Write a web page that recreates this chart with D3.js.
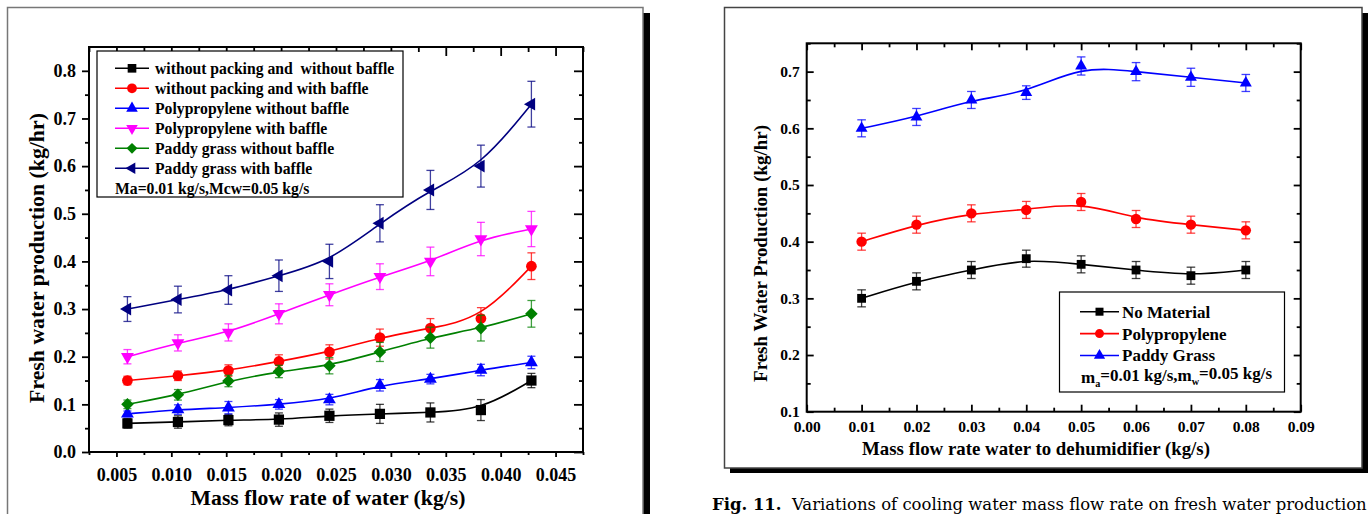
<!DOCTYPE html>
<html>
<head>
<meta charset="utf-8">
<script src="https://cdn.jsdelivr.net/npm/d3@7"></script>
<style>
  body { margin: 0; background: #fff; }
  svg { display: block; font-family: "Liberation Serif", "Times New Roman", serif; }
</style>
</head>
<body>
<svg id="fig" width="1370" height="514"></svg>
<script>
// ---- left figure: flow rate of water ----
var leftFlow = [0.006, 0.0106, 0.0152, 0.0198, 0.0244, 0.029, 0.0336, 0.0382, 0.0428];
var noPackNoBaffle = [0.06, 0.063, 0.067, 0.068, 0.076, 0.08, 0.083, 0.088, 0.15];
var noPackNoBaffleErr = [0.01, 0.013, 0.012, 0.014, 0.014, 0.02, 0.02, 0.022, 0.015];
var noPackBaffle = [0.15, 0.16, 0.171, 0.19, 0.21, 0.24, 0.26, 0.28, 0.39];
var noPackBaffleErr = [0.009, 0.01, 0.012, 0.014, 0.015, 0.018, 0.02, 0.023, 0.028];
var polyNoBaffle = [0.08, 0.089, 0.093, 0.1, 0.11, 0.14, 0.153, 0.172, 0.188];
var polyNoBaffleErr = [0.006, 0.01, 0.013, 0.01, 0.011, 0.012, 0.01, 0.012, 0.013];
var polyBaffle = [0.2, 0.229, 0.251, 0.29, 0.33, 0.368, 0.4, 0.447, 0.468];
var polyBaffleErr = [0.015, 0.017, 0.018, 0.021, 0.023, 0.027, 0.03, 0.035, 0.037];
var paddyNoBaffle = [0.1, 0.12, 0.149, 0.169, 0.181, 0.21, 0.24, 0.26, 0.29];
var paddyNoBaffleErr = [0.009, 0.011, 0.012, 0.013, 0.017, 0.02, 0.022, 0.027, 0.028];
var paddyBaffle = [0.3, 0.32, 0.34, 0.37, 0.4, 0.48, 0.55, 0.6, 0.73];
var paddyBaffleErr = [0.026, 0.028, 0.03, 0.033, 0.036, 0.039, 0.041, 0.044, 0.048];

var leftXTicks = [0.005, 0.010, 0.015, 0.020, 0.025, 0.030, 0.035, 0.040, 0.045];
var leftXMinor = [0.0025, 0.0075, 0.0125, 0.0175, 0.0225, 0.0275, 0.0325, 0.0375, 0.0425, 0.0475];
var leftYTicks = [0, 0.1, 0.2, 0.3, 0.4, 0.5, 0.6, 0.7, 0.8];
var leftYMinor = [0.05, 0.15, 0.25, 0.35, 0.45, 0.55, 0.65, 0.75];

// ---- right figure: water to dehumidifier ----
var rightFlow = [0.01, 0.02, 0.03, 0.04, 0.05, 0.06, 0.07, 0.08];
var noMaterial = [0.30, 0.33, 0.35, 0.37, 0.36, 0.35, 0.34, 0.35];
var noMaterialErr = [0.015, 0.015, 0.015, 0.015, 0.015, 0.015, 0.015, 0.015];
var polypropylene = [0.40, 0.43, 0.45, 0.456, 0.47, 0.44, 0.43, 0.42];
var polypropyleneErr = [0.015, 0.015, 0.015, 0.015, 0.015, 0.015, 0.015, 0.015];
var paddyGrass = [0.60, 0.62, 0.65, 0.663, 0.71, 0.70, 0.69, 0.68];
var paddyGrassErr = [0.015, 0.015, 0.015, 0.012, 0.016, 0.016, 0.016, 0.015];

var rightXTicks = [0, 0.01, 0.02, 0.03, 0.04, 0.05, 0.06, 0.07, 0.08, 0.09];
var rightXMinor = [0.005, 0.015, 0.025, 0.035, 0.045, 0.055, 0.065, 0.075, 0.085];
var rightYTicks = [0.1, 0.2, 0.3, 0.4, 0.5, 0.6, 0.7];
var rightYMinor = [0.15, 0.25, 0.35, 0.45, 0.55, 0.65, 0.75];

var svg = d3.select('#fig');

var shapes = {
	square: { type: d3.symbolSquare, rot: 0 },
	circle: { type: d3.symbolCircle, rot: 0 },
	up: { type: d3.symbolTriangle, rot: 0 },
	down: { type: d3.symbolTriangle, rot: 180 },
	diamond: { type: d3.symbolDiamond2, rot: 0 },
	left: { type: d3.symbolTriangle, rot: -90 }
};

function marker(sel, shape, size, cx, cy, color) {
	sel.append('path')
		.attr('d', d3.symbol().type(shapes[shape].type).size(size)())
		.attr('transform', 'translate(' + cx + ',' + cy + ')rotate(' + shapes[shape].rot + ')')
		.attr('fill', color);
}

// scale a text's font so its length matches the width measured on the figure
function fit(t, width) {
	var fs = parseFloat(t.style('font-size'));
	var w = t.node().getComputedTextLength();
	t.style('font-size', (fs * width / w) + 'px');
}

// paper frames + shadows
svg.append('rect').attr('x', 643).attr('y', 13).attr('width', 7).attr('height', 510).attr('fill', '#000');
svg.append('rect').attr('x', 7.5).attr('y', 7.5).attr('width', 635.5).attr('height', 520)
	.attr('fill', '#fff').attr('stroke', '#777').attr('stroke-width', 1.5);
svg.append('rect').attr('x', 1362).attr('y', 13).attr('width', 6).attr('height', 460).attr('fill', '#000');
svg.append('rect').attr('x', 730).attr('y', 468).attr('width', 638).attr('height', 5).attr('fill', '#000');
svg.append('rect').attr('x', 724.5).attr('y', 7.5).attr('width', 637.5).attr('height', 460.5)
	.attr('fill', '#fff').attr('stroke', '#444').attr('stroke-width', 1.5);

function panel(o) {
	var g = svg.append('g');
	var x = d3.scaleLinear().domain(o.xDomain).range([o.left, o.right]);
	var y = d3.scaleLinear().domain(o.yDomain).range([o.bottom, o.top]);

	function styleAxis(a, fs) {
		a.select('.domain').remove();
		a.selectAll('line').attr('stroke', '#000').attr('stroke-width', 1.8);
		a.selectAll('text').attr('fill', '#000').style('font-size', fs + 'px')
			.style('font-weight', 'bold').style('font-family', '"Liberation Serif", serif');
	}
	var bSign = o.outBottom ? 1 : -1, lSign = o.outLeft ? 1 : -1;

	// bottom
	g.append('g').attr('transform', 'translate(0,' + o.bottom + ')')
		.call(d3.axisBottom(x).tickValues(o.xTicks).tickSize(bSign * o.bMajor)
			.tickPadding(o.xPad).tickFormat(d3.format(o.xFmt)))
		.call(styleAxis, o.tickFont);
	g.append('g').attr('transform', 'translate(0,' + o.bottom + ')')
		.call(d3.axisBottom(x).tickValues(o.xMinor).tickSize(bSign * o.bMinor).tickFormat(''))
		.call(styleAxis, o.tickFont);
	// top (inward)
	g.append('g').attr('transform', 'translate(0,' + o.top + ')')
		.call(d3.axisBottom(x).tickValues(o.xTicks).tickSize(o.tMajor).tickFormat(''))
		.call(styleAxis, o.tickFont);
	g.append('g').attr('transform', 'translate(0,' + o.top + ')')
		.call(d3.axisBottom(x).tickValues(o.xMinor).tickSize(o.tMinor).tickFormat(''))
		.call(styleAxis, o.tickFont);
	// left
	g.append('g').attr('transform', 'translate(' + o.left + ',0)')
		.call(d3.axisLeft(y).tickValues(o.yTicks).tickSize(lSign * o.lMajor)
			.tickPadding(o.yPad).tickFormat(d3.format('.1f')))
		.call(styleAxis, o.tickFont);
	g.append('g').attr('transform', 'translate(' + o.left + ',0)')
		.call(d3.axisLeft(y).tickValues(o.yMinor).tickSize(lSign * o.lMinor).tickFormat(''))
		.call(styleAxis, o.tickFont);
	// right (inward)
	g.append('g').attr('transform', 'translate(' + o.right + ',0)')
		.call(d3.axisLeft(y).tickValues(o.yTicks).tickSize(o.rMajor).tickFormat(''))
		.call(styleAxis, o.tickFont);
	g.append('g').attr('transform', 'translate(' + o.right + ',0)')
		.call(d3.axisLeft(y).tickValues(o.yMinor).tickSize(o.rMinor).tickFormat(''))
		.call(styleAxis, o.tickFont);

	g.append('rect')
		.attr('x', o.left).attr('y', o.top)
		.attr('width', o.right - o.left).attr('height', o.bottom - o.top)
		.attr('fill', 'none').attr('stroke', '#000').attr('stroke-width', 2);

	// Origin-style B-spline through the points
	var line = d3.line()
		.x(function(d) { return x(d.x); })
		.y(function(d) { return y(d.y); })
		.curve(d3.curveBasis);

	o.series.forEach(function(s) {
		var pts = o.xs.map(function(v, i) { return { x: v, y: s.y[i], e: s.err[i] }; });
		var sg = g.append('g');
		sg.append('path').datum(pts).attr('d', line)
			.attr('fill', 'none').attr('stroke', s.color).attr('stroke-width', 1.6);
		var eb = sg.selectAll('g.err').data(pts).enter().append('g')
			.attr('stroke', s.color).attr('stroke-opacity', 0.75).attr('stroke-width', 1.3);
		eb.append('line')
			.attr('x1', function(d) { return x(d.x); }).attr('x2', function(d) { return x(d.x); })
			.attr('y1', function(d) { return y(d.y - d.e); }).attr('y2', function(d) { return y(d.y + d.e); });
		eb.append('line')
			.attr('x1', function(d) { return x(d.x) - o.cap; }).attr('x2', function(d) { return x(d.x) + o.cap; })
			.attr('y1', function(d) { return y(d.y + d.e); }).attr('y2', function(d) { return y(d.y + d.e); });
		eb.append('line')
			.attr('x1', function(d) { return x(d.x) - o.cap; }).attr('x2', function(d) { return x(d.x) + o.cap; })
			.attr('y1', function(d) { return y(d.y - d.e); }).attr('y2', function(d) { return y(d.y - d.e); });
		pts.forEach(function(d) {
			marker(sg, s.shape, o.sizes[s.shape], x(d.x), y(d.y), s.color);
		});
	});

	// axis titles
	var yt = g.append('text')
		.attr('transform', 'translate(' + o.yTitlePos[0] + ',' + o.yTitlePos[1] + ')rotate(-90)')
		.attr('text-anchor', 'middle').attr('dy', '0.35em')
		.style('font-size', '20px').style('font-weight', 'bold')
		.text(o.yTitle);
	fit(yt, o.yTitleW);
	var xt = g.append('text')
		.attr('x', o.xTitlePos[0]).attr('y', o.xTitlePos[1])
		.attr('text-anchor', 'middle')
		.style('font-size', '20px').style('font-weight', 'bold')
		.text(o.xTitle);
	fit(xt, o.xTitleW);

	// legend
	var L = o.legend;
	g.append('rect').attr('x', L.box[0]).attr('y', L.box[1]).attr('width', L.box[2]).attr('height', L.box[3])
		.attr('fill', '#fff').attr('stroke', '#000').attr('stroke-width', 1.2);
	o.series.forEach(function(s, i) {
		var ly = L.y0 + i * L.dy;
		g.append('line').attr('x1', L.lineX[0]).attr('x2', L.lineX[1]).attr('y1', ly).attr('y2', ly)
			.attr('stroke', s.color).attr('stroke-width', 1.6);
		marker(g, s.shape, L.size[s.shape], (L.lineX[0] + L.lineX[1]) / 2, ly, s.color);
		g.append('text').attr('x', L.textX).attr('y', ly).attr('dy', '0.35em')
			.style('font-size', L.font + 'px').style('font-weight', 'bold').style('white-space', 'pre')
			.text(s.name);
	});
	var note = g.append('text').attr('x', L.noteX).attr('y', L.y0 + o.series.length * L.dy).attr('dy', '0.35em')
		.style('font-size', L.font + 'px').style('font-weight', 'bold');
	L.note.forEach(function(part) {
		var t = note.append('tspan').text(part.t);
		if (part.sub) t.attr('dy', '0.35em').style('font-size', (L.font * 0.6) + 'px');
		if (part.back) t.attr('dy', '-0.35em');
	});
	return g;
}

panel({
	xDomain: [0.0025, 0.0475], yDomain: [0, 0.85],
	left: 89, right: 583, top: 47, bottom: 452,
	xTicks: leftXTicks, xMinor: leftXMinor, yTicks: leftYTicks, yMinor: leftYMinor,
	xFmt: '.3f', tickFont: 18, xPad: 11, yPad: 6,
	outBottom: true, outLeft: true,
	bMajor: 5, bMinor: 3, tMajor: 9, tMinor: 5, lMajor: 7, lMinor: 4, rMajor: 9, rMinor: 4,
	cap: 4,
	xs: leftFlow,
	series: [
		{ name: 'without packing and  without baffle', color: '#000000', shape: 'square', y: noPackNoBaffle, err: noPackNoBaffleErr },
		{ name: 'without packing and with baffle', color: '#ff0000', shape: 'circle', y: noPackBaffle, err: noPackBaffleErr },
		{ name: 'Polypropylene without baffle', color: '#0000ff', shape: 'up', y: polyNoBaffle, err: polyNoBaffleErr },
		{ name: 'Polypropylene with baffle', color: '#ff00ff', shape: 'down', y: polyBaffle, err: polyBaffleErr },
		{ name: 'Paddy grass without baffle', color: '#008000', shape: 'diamond', y: paddyNoBaffle, err: paddyNoBaffleErr },
		{ name: 'Paddy grass with baffle', color: '#000080', shape: 'left', y: paddyBaffle, err: paddyBaffleErr }
	],
	sizes: { square: 105, circle: 90, up: 72, down: 72, diamond: 100, left: 72 },
	yTitle: 'Fresh water production (kg/hr)', yTitlePos: [36, 258], yTitleW: 290,
	xTitle: 'Mass flow rate of water (kg/s)', xTitlePos: [328, 505], xTitleW: 275,
	legend: {
		box: [97, 51, 306, 146], y0: 68.3, dy: 20, lineX: [115, 149], textX: 155, noteX: 115, font: 15.7,
		size: { square: 75, circle: 75, up: 58, down: 58, diamond: 75, left: 58 },
		note: [{ t: 'Ma=0.01 kg/s,Mcw=0.05 kg/s' }]
	}
});

panel({
	xDomain: [0, 0.09], yDomain: [0.1, 0.75],
	left: 806.7, right: 1300.7, top: 43.3, bottom: 411.7,
	xTicks: rightXTicks, xMinor: rightXMinor, yTicks: rightYTicks, yMinor: rightYMinor,
	xFmt: '.2f', tickFont: 15.5, xPad: 9, yPad: 7,
	outBottom: false, outLeft: false,
	bMajor: 7, bMinor: 4, tMajor: 7, tMinor: 4, lMajor: 7, lMinor: 4, rMajor: 7, rMinor: 4,
	cap: 4.3,
	xs: rightFlow,
	series: [
		{ name: 'No Material', color: '#000000', shape: 'square', y: noMaterial, err: noMaterialErr },
		{ name: 'Polypropylene', color: '#ff0000', shape: 'circle', y: polypropylene, err: polypropyleneErr },
		{ name: 'Paddy Grass', color: '#0000ff', shape: 'up', y: paddyGrass, err: paddyGrassErr }
	],
	sizes: { square: 78, circle: 85, up: 62 },
	yTitle: 'Fresh Water Production (kg/hr)', yTitlePos: [760, 253.5], yTitleW: 257,
	xTitle: 'Mass flow rate water to dehumidifier (kg/s)', xTitlePos: [1036, 455], xTitleW: 348,
	legend: {
		box: [1059.5, 292, 225, 100], y0: 311.7, dy: 21.9, lineX: [1080, 1119], textX: 1122, noteX: 1081, font: 17,
		size: { square: 64, circle: 64, up: 55 },
		note: [
			{ t: 'm' }, { t: 'a', sub: true }, { t: '=0.01 kg/s,m', back: true },
			{ t: 'w', sub: true }, { t: '=0.05 kg/s', back: true }
		]
	}
});

// caption under the right figure, kept just inside the page edge
var cap = svg.append('text').attr('x', 712).attr('y', 510)
	.style('font-family', '"DejaVu Serif", serif').style('font-size', '17px').style('white-space', 'pre');
cap.append('tspan').style('font-weight', 'bold').text('Fig. 11.');
cap.append('tspan').text('  Variations of cooling water mass flow rate on fresh water production');
fit(cap, 655);
</script>
</body>
</html>
